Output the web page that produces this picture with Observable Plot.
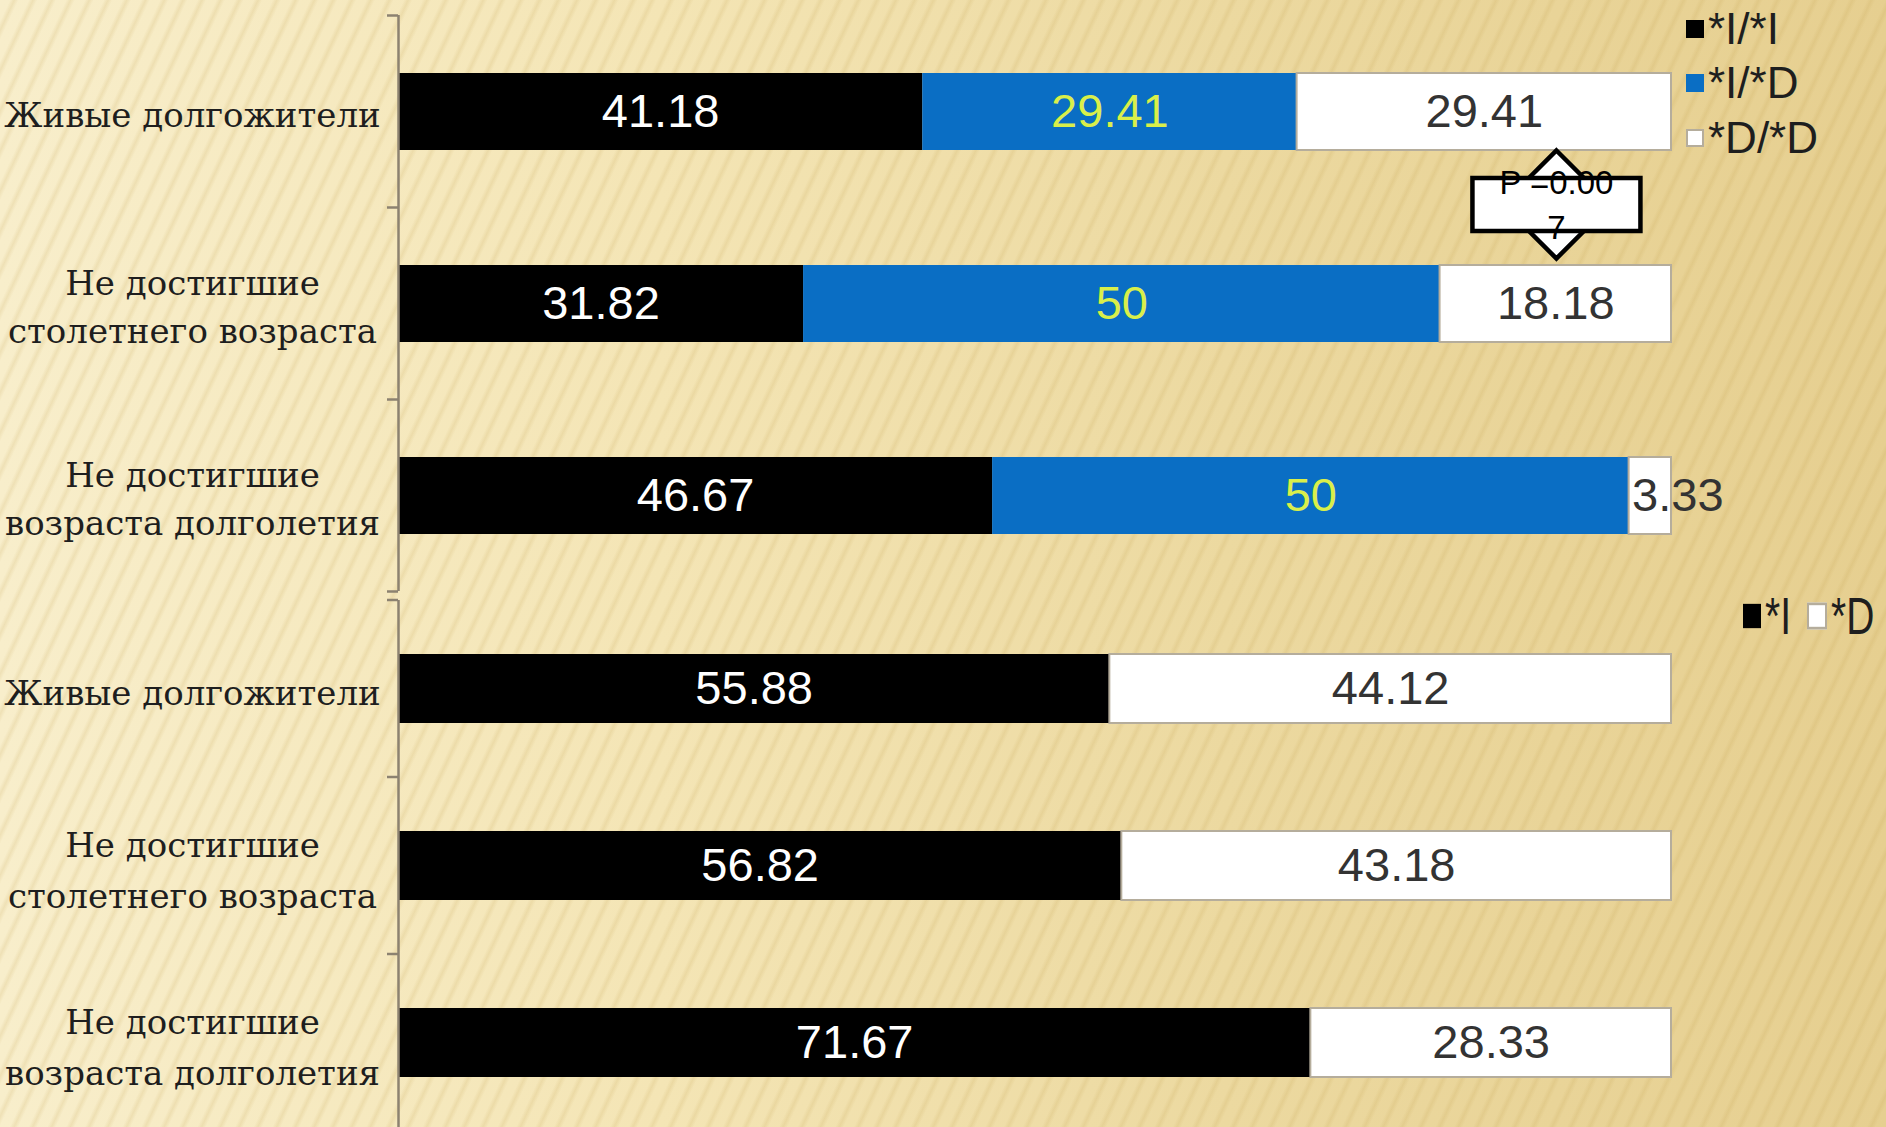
<!DOCTYPE html>
<html><head><meta charset="utf-8">
<script src="https://cdn.jsdelivr.net/npm/d3@7"></script>
<script src="https://cdn.jsdelivr.net/npm/@observablehq/plot@0.6"></script>
<style>
html,body{margin:0;padding:0;width:1886px;height:1127px;overflow:hidden;}
#stage{position:relative;width:1886px;height:1127px;overflow:hidden;
 background:
  repeating-linear-gradient(115deg, rgba(255,255,255,0) 0px, rgba(255,255,255,0) 9px, rgba(190,155,70,0.16) 13px, rgba(255,255,255,0) 17px),
  linear-gradient(90deg, #f8eecb 0%, #f4e5b5 35%, #ecd9a0 65%, #e6cf90 100%);}
.plot{position:absolute;left:0;}
.leg{position:absolute;display:flex;align-items:center;font-family:"Liberation Sans",Arial,sans-serif;color:#1e1e1e;white-space:nowrap;}
.sq{display:inline-block;box-sizing:border-box;}
</style></head><body><div id="stage"></div>
<script>
// ---- data ----
const groups = ["Живые долгожители", "Не достигшие\nстолетнего возраста", "Не достигшие\nвозраста долголетия"];
const genotypes = ["*I/*I", "*I/*D", "*D/*D"];
const genoII = [41.18, 31.82, 46.67];
const genoID = [29.41, 50, 50];
const genoDD = [29.41, 18.18, 3.33];
const alleles = ["*I", "*D"];
const alleleI = [55.88, 56.82, 71.67];
const alleleD = [44.12, 43.18, 28.33];
const pValueLines = ["P =0.00", "7"];
const pValueAt = 91; // x position (percent) of the p-value callout

// ---- styles ----
const fillOf = {"*I/*I": "#000000", "*I/*D": "#0a6ec4", "*D/*D": "#ffffff", "*I": "#000000", "*D": "#ffffff"};
const textOf = {"*I/*I": "#ffffff", "*I/*D": "#d9ef4a", "*D/*D": "#333333", "*I": "#ffffff", "*D": "#333333"};
const strokeOf = {"*D/*D": "#b5ad9c", "*D": "#b5ad9c"};
const narrow = 5; // segments narrower than this get a left-anchored label

function buildRows(keys, series) {
  const rows = [];
  groups.forEach((g, i) => keys.forEach((k, j) => {
    const v = series[j][i];
    rows.push({
      group: g, key: k, value: v,
      label: v >= narrow ? String(v) : "", labelSmall: v < narrow ? String(v) : "",
      fill: fillOf[k], textFill: textOf[k], stroke: strokeOf[k] || "none"
    });
  }));
  return rows;
}
const topRows = buildRows(genotypes, [genoII, genoID, genoDD]);
const botRows = buildRows(alleles, [alleleI, alleleD]);

function chart(rows, {height, marginTop, marginBottom, padIn, padOut, labelSize, lineHeight}) {
  const font = "Liberation Sans, Arial, sans-serif";
  const p = Plot.plot({
    width: 1886, height, marginLeft: 398, marginRight: 215, marginTop, marginBottom,
    style: {background: "transparent", overflow: "visible"},
    x: {domain: [0, 100], axis: null},
    y: {domain: groups, paddingInner: padIn, paddingOuter: padOut, axis: null},
    color: {type: "identity"},
    marks: [
      Plot.barX(rows, Plot.stackX({y: "group", x: "value", fill: "fill", stroke: "stroke", strokeWidth: 2})),
      Plot.text(rows, Plot.stackX({y: "group", x: "value", text: "label", fill: "textFill",
        fontSize: labelSize, fontFamily: font})),
      Plot.text(rows, Plot.stackX1({y: "group", x: "value", text: "labelSmall", fill: "textFill",
        textAnchor: "start", dx: 3, fontSize: labelSize, fontFamily: font})),
      Plot.ruleX([0], {stroke: "#8c8270", strokeWidth: 2.5}),
      Plot.axisY({tickSize: 0, tickPadding: 206, textAnchor: "middle", fontSize: 34, label: null,
        fontFamily: "DejaVu Serif, serif", lineHeight, fill: "#1e1e1e"})
    ]
  });
  // category-boundary ticks
  const ys = p.scale("y"), xs = p.scale("x");
  const half = (ys.step - ys.bandwidth) / 2;
  const bounds = groups.map(g => ys.apply(g) - half).concat([ys.apply(groups[groups.length - 1]) + ys.bandwidth + half]);
  const x0 = xs.apply(0);
  d3.select(p).append("g").selectAll("line").data(bounds).join("line")
    .attr("x1", x0 - 11).attr("x2", x0).attr("y1", d => d).attr("y2", d => d)
    .attr("stroke", "#8c8270").attr("stroke-width", 2.5);
  return p;
}

const stage = document.getElementById("stage");
const topChart = chart(topRows, {height: 600, marginTop: 15, marginBottom: 9, padIn: 0.6, padOut: 0.3, labelSize: 47, lineHeight: 1.41});
topChart.classList.add("plot"); topChart.style.top = "0px";
stage.appendChild(topChart);
const botChart = chart(botRows, {height: 560, marginTop: 10, marginBottom: 19, padIn: 0.61, padOut: 0.305, labelSize: 47, lineHeight: 1.5});
botChart.classList.add("plot"); botChart.style.top = "590px";
stage.appendChild(botChart);

// p-value callout (up-down arrow callout) between first and second bars of the top chart
{
  const ys = topChart.scale("y"), xs = topChart.scale("x");
  const cx = xs.apply(pValueAt);
  const cy = ys.apply(groups[1]) - (ys.step - ys.bandwidth) / 2 - 3;
  const g = d3.select(topChart).append("g").attr("transform", `translate(${cx},${cy})`);
  g.append("polygon").attr("points", "0,-54 54,0 0,54 -54,0").attr("fill", "#fff").attr("stroke", "#000").attr("stroke-width", 4.5).attr("stroke-linejoin", "miter");
  g.append("rect").attr("x", -84).attr("y", -26.5).attr("width", 168).attr("height", 53).attr("fill", "#fff").attr("stroke", "#000").attr("stroke-width", 4.5);
  g.append("text").attr("y", -19).attr("text-anchor", "middle").attr("dominant-baseline", "middle")
    .attr("font-family", "Liberation Sans, Arial, sans-serif").attr("font-size", 33).attr("fill", "#000").text(pValueLines[0]);
  g.append("text").attr("y", 26).attr("text-anchor", "middle").attr("dominant-baseline", "middle")
    .attr("font-family", "Liberation Sans, Arial, sans-serif").attr("font-size", 33).attr("fill", "#000").text(pValueLines[1]);
}

// legends
function legendItem(left, topPx, key, size, fontSize, scaleY) {
  const d = document.createElement("div");
  d.className = "leg";
  d.style.left = left + "px"; d.style.top = topPx + "px"; d.style.fontSize = fontSize + "px";
  d.style.height = "40px";
  if (scaleY) { d.style.transform = `scaleY(${scaleY})`; d.style.transformOrigin = "left center"; }
  const s = document.createElement("span");
  s.className = "sq"; s.style.width = size + "px"; s.style.height = size + "px";
  s.style.background = fillOf[key]; s.style.marginRight = "4px";
  if (strokeOf[key]) s.style.border = "2px solid " + strokeOf[key];
  d.appendChild(s);
  const t = document.createElement("span"); t.textContent = key; d.appendChild(t);
  stage.appendChild(d);
}
legendItem(1686, 9, genotypes[0], 18, 44);
legendItem(1686, 63, genotypes[1], 18, 44);
legendItem(1686, 118, genotypes[2], 18, 44);
legendItem(1743, 596, alleles[0], 18, 39, 1.35);
legendItem(1807, 596, alleles[1], 20, 39, 1.35);
</script>
</body></html>
